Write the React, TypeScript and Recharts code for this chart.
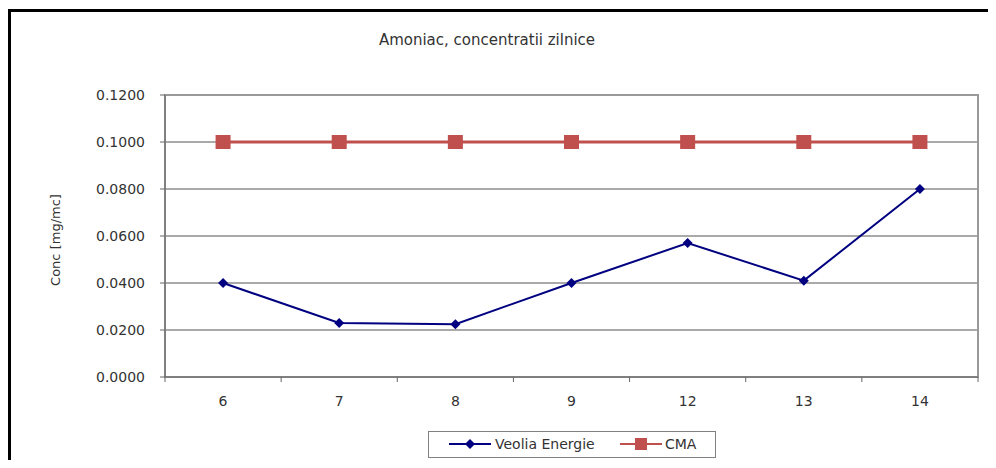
import React from "react";
import {
  LineChart,
  Line,
  XAxis,
  YAxis,
  CartesianGrid,
  Legend,
  ReferenceArea,
} from "recharts";

const days = ["6", "7", "8", "9", "12", "13", "14"];
const veolia = [0.04, 0.023, 0.0225, 0.04, 0.057, 0.041, 0.08];
const cma = [0.1, 0.1, 0.1, 0.1, 0.1, 0.1, 0.1];
const yTicks = [0, 0.02, 0.04, 0.06, 0.08, 0.1, 0.12];

const data = days.map((d, i) => ({ day: d, veolia: veolia[i], cma: cma[i] }));

const FONT = '"DejaVu Sans", sans-serif';
const BLUE = "#000080";
const RED = "#C0504D";

const Diamond = (props: any) => {
  const { cx, cy } = props;
  if (cx == null || cy == null) return null;
  return (
    <path
      d={`M${cx} ${cy - 5} L${cx + 5} ${cy} L${cx} ${cy + 5} L${cx - 5} ${cy} Z`}
      fill={BLUE}
    />
  );
};

const Square = (props: any) => {
  const { cx, cy } = props;
  if (cx == null || cy == null) return null;
  return <rect x={cx - 7.5} y={cy - 7} width={15} height={14} fill={RED} />;
};

// labels under the bands, tick marks on the band edges (like Excel)
const XTick = (props: any) => {
  const { x, y, payload, index, visibleTicksCount } = props;
  const half = payload?.offset || 58;
  const axisY = y - 19;
  return (
    <g>
      <line x1={x - half} x2={x - half} y1={axisY} y2={axisY + 5} stroke="#666" />
      {index === visibleTicksCount - 1 && (
        <line x1={x + half} x2={x + half} y1={axisY} y2={axisY + 5} stroke="#666" />
      )}
      <text x={x} y={y} dy="0.71em" textAnchor="middle" fill="#333" fontSize={14} fontFamily={FONT}>
        {payload.value}
      </text>
    </g>
  );
};

const YLabel = (props: any) => {
  const { viewBox } = props;
  const cx = viewBox.x - 30;
  const cy = viewBox.y + viewBox.height / 2 + 4;
  return (
    <text
      x={cx}
      y={cy}
      transform={`rotate(-90 ${cx} ${cy})`}
      textAnchor="middle"
      dominantBaseline="central"
      fill="#333"
      fontSize={13}
      fontFamily={FONT}
    >
      Conc [mg/mc]
    </text>
  );
};

const LegendBox = () => (
  <div
    style={{
      position: "relative",
      boxSizing: "border-box",
      width: 288,
      height: 27,
      border: "1.5px solid #808080",
      fontFamily: FONT,
      fontSize: 14,
      color: "#333",
    }}
  >
    <svg style={{ position: "absolute", left: 20, top: 6 }} width={42} height={12}>
      <line x1={0} x2={42} y1={6} y2={6} stroke={BLUE} strokeWidth={2} />
      <path d="M21 1 L26 6 L21 11 L16 6 Z" fill={BLUE} />
    </svg>
    <span style={{ position: "absolute", left: 66, top: 3, lineHeight: "18px", whiteSpace: "nowrap" }}>
      Veolia Energie
    </span>
    <svg style={{ position: "absolute", left: 191, top: 5 }} width={42} height={14}>
      <line x1={0} x2={42} y1={7} y2={7} stroke={RED} strokeWidth={2} />
      <rect x={15} y={1} width={12} height={12} fill={RED} />
    </svg>
    <span style={{ position: "absolute", left: 236, top: 3, lineHeight: "18px" }}>CMA</span>
  </div>
);

export default function App() {
  return (
    <div style={{ position: "relative", width: 980, height: 452, fontFamily: FONT }}>
      {/* outer frame: only its top and left edges fall inside the crop */}
      <svg
        width={988}
        height={460}
        style={{ position: "absolute", left: 0, top: 0, pointerEvents: "none" }}
      >
        <path d="M1.5 460 V2.5 H988" stroke="#000" strokeWidth={3} fill="none" />
      </svg>
      <div
        style={{
          position: "absolute",
          left: 179,
          width: 600,
          top: 23,
          lineHeight: "18px",
          textAlign: "center",
          fontSize: 15,
          color: "#333",
        }}
      >
        Amoniac, concentratii zilnice
      </div>
      <LineChart
        width={980}
        height={452}
        data={data}
        accessibilityLayer={false}
        style={{ outline: "none" }}
        margin={{ top: 87, right: 10, bottom: 53, left: 77 }}
      >
        <CartesianGrid vertical={false} stroke="#555" />
        <ReferenceArea y1={0} y2={0.12} fill="none" stroke="#999" strokeWidth={2} />
        <XAxis
          dataKey="day"
          scale="band"
          height={30}
          stroke="#666"
          tickLine={false}
          tickSize={0}
          tickMargin={19}
          tick={<XTick />}
          interval={0}
        />
        <YAxis
          width={80}
          domain={[0, 0.12]}
          ticks={yTicks}
          tickFormatter={(v: number) => v.toFixed(4)}
          stroke="#666"
          tickSize={5}
          tickMargin={15}
          tick={{ fill: "#333", fontSize: 14, fontFamily: FONT }}
          label={<YLabel />}
        />
        <Legend
          layout="horizontal"
          verticalAlign="middle"
          align="center"
          wrapperStyle={{ top: 423, left: 420, width: 288, height: 27 }}
          content={() => <LegendBox />}
        />
        <Line
          dataKey="veolia"
          name="Veolia Energie"
          stroke={BLUE}
          strokeWidth={2}
          dot={<Diamond />}
          activeDot={false}
          isAnimationActive={false}
        />
        <Line
          dataKey="cma"
          name="CMA"
          stroke={RED}
          strokeWidth={3}
          dot={<Square />}
          activeDot={false}
          isAnimationActive={false}
        />
      </LineChart>
    </div>
  );
}
